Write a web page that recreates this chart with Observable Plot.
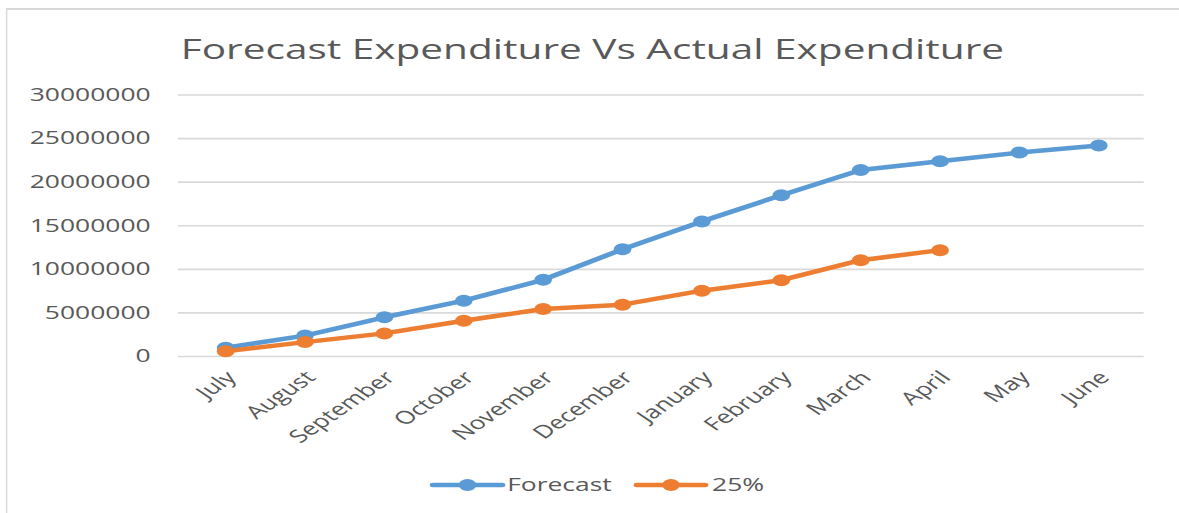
<!DOCTYPE html>
<html><head><meta charset="utf-8">
<script src="https://cdn.jsdelivr.net/npm/d3@7"></script>
<script src="https://cdn.jsdelivr.net/npm/@observablehq/plot@0.6"></script>
<style>
html,body{margin:0;padding:0;background:#fff;overflow:hidden;width:1179px;height:513px}
#stage{position:absolute;left:0;top:0;width:802px;height:513px;transform:scaleX(1.47);transform-origin:0 0;font-family:"Open Sans",sans-serif;color:#595959}
#frame{position:absolute;left:4px;top:8px;right:-10px;bottom:-10px;border-left:1.4px solid #d9d9d9;border-top:2px solid #d9d9d9}
#title{position:absolute;left:0;width:806px;top:34px;text-align:center;font-size:27.6px;line-height:28px;white-space:nowrap}
#chart{position:absolute;left:0;top:0}
#legend{position:absolute;left:0;top:0}
</style></head><body>
<div id="stage">
  <div id="frame"></div>
  <div id="title">Forecast Expenditure Vs Actual Expenditure</div>
  <div id="chart"></div>
  <svg id="legend" width="802" height="513"></svg>
</div>
<script>
const months = ["July","August","September","October","November","December","January","February","March","April","May","June"];
const forecast = [1000000, 2400000, 4500000, 6400000, 8800000, 12300000, 15500000, 18500000, 21400000, 22400000, 23400000, 24200000];
const actual25 = [600000, 1650000, 2650000, 4100000, 5450000, 5950000, 7550000, 8750000, 11050000, 12200000];
const yTicks = [0, 5000000, 10000000, 15000000, 20000000, 25000000, 30000000];
const seriesNames = ["Forecast", "25%"];
const seriesColors = ["#5b9bd5", "#ed7d31"];

const rows = [];
[forecast, actual25].forEach((vals, i) => {
  vals.forEach((v, j) => rows.push({month: months[j], value: v, series: seriesNames[i]}));
});

const chart = Plot.plot({
  width: 802,
  height: 470,
  marginLeft: 121,
  marginRight: 24,
  marginTop: 94.5,
  marginBottom: 114,
  x: {type: "point", domain: months, padding: 0.5},
  y: {domain: [0, 30000000]},
  color: {domain: seriesNames, range: seriesColors},
  style: {fontFamily: "Open Sans, sans-serif", fontSize: "18px", color: "#595959", background: "transparent", overflow: "visible"},
  marks: [
    Plot.gridY(yTicks, {stroke: "#d9d9d9", strokeOpacity: 1, strokeWidth: 1.6}),
    Plot.axisY(yTicks, {tickSize: 0, tickPadding: 19, tickFormat: d => String(d), fontSize: 18, label: null}),
    Plot.axisX({tickSize: 0, tickRotate: -45, tickPadding: 18, dx: 4, fontSize: 18, label: null}),
    Plot.line(rows, {x: "month", y: "value", z: "series", stroke: "series", strokeWidth: 4.5}),
    Plot.dot(rows, {x: "month", y: "value", fill: "series", r: 6, stroke: "none"})
  ]
});
document.getElementById("chart").appendChild(chart);

const lg = d3.select("#legend");
const lx0 = [294.6, 433.3], lx1 = [341.5, 479.6], tx = [345, 484.4];
seriesNames.forEach((name, i) => {
  const g = lg.append("g");
  g.append("line").attr("x1", lx0[i]).attr("x2", lx1[i]).attr("y1", 485).attr("y2", 485)
    .attr("stroke", seriesColors[i]).attr("stroke-width", 4.5).attr("stroke-linecap", "round");
  g.append("circle").attr("cx", (lx0[i] + lx1[i]) / 2).attr("cy", 485).attr("r", 6).attr("fill", seriesColors[i]);
  g.append("text").attr("x", tx[i]).attr("y", 491).attr("font-size", 18)
    .attr("font-family", "Open Sans, sans-serif").attr("fill", "#595959").text(name);
});
</script>
</body></html>
